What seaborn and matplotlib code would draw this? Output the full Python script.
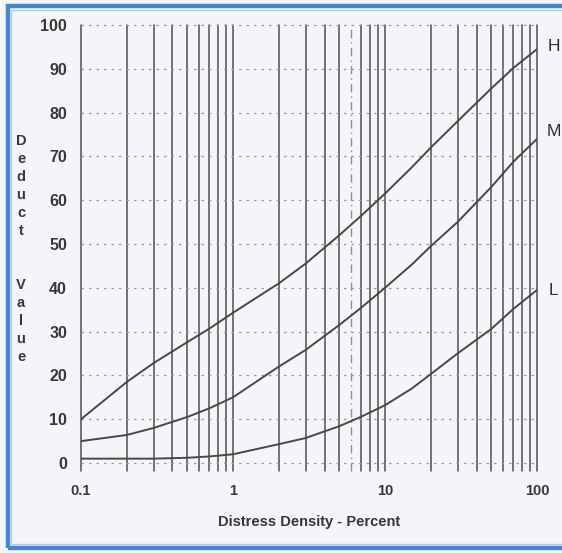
import matplotlib
matplotlib.use("Agg")
import matplotlib.pyplot as plt
from matplotlib.patches import Rectangle
import numpy as np
import pandas as pd
import seaborn as sns

# Distress density (percent) and deduct values for each severity level
density = [0.1, 0.2, 0.3, 0.5, 0.7, 1, 2, 3, 5, 7, 10, 15, 20, 30, 50, 70, 100]
deduct_high = [10, 18.5, 22.8, 27.6, 30.7, 34.3, 41, 45.5, 52, 56.5, 61.5, 67.5, 72, 78, 85.5, 90.2, 94.5]
deduct_medium = [5, 6.4, 8, 10.5, 12.5, 15, 22, 25.8, 31.5, 35.5, 40, 45.3, 49.5, 55, 63, 68.8, 74]
deduct_low = [1, 1, 1, 1.2, 1.5, 2, 4.3, 5.7, 8.4, 10.6, 13.2, 17, 20.3, 25, 30.6, 35.2, 39.5]
severity_labels = ["H", "M", "L"]

y_ticks = list(range(0, 101, 10))
x_tick_values = [0.1, 1, 10, 100]
x_tick_labels = ["0.1", "1", "10", "100"]

df = pd.concat([
    pd.DataFrame({"density": density, "deduct": vals, "severity": lab})
    for lab, vals in zip(severity_labels, [deduct_high, deduct_medium, deduct_low])
])

sns.set_theme(style="white")
plt.rcParams["font.family"] = ["Liberation Sans", "DejaVu Sans"]

bg = "#f3f5f8"
ink = "#383838"
fig = plt.figure(figsize=(5.62, 5.53), dpi=100, facecolor=bg)
ax = fig.add_axes([0.1441, 0.1627, 0.8114, 0.7921], facecolor=bg)

sns.lineplot(data=df, x="density", y="deduct", hue="severity",
             palette={"H": "#4a4744", "M": "#4a4744", "L": "#4a4744"},
             linewidth=1.4, legend=False, ax=ax, sort=True)

ax.set_xscale("log")
ax.set_xlim(0.1, 100)
ax.set_ylim(0, 100)

# Log-cycle grid: solid verticals at every 1-9 multiple
minor = [m * 10.0 ** e for e in (-1, 0, 1) for m in range(2, 10)]
ax.set_xticks(x_tick_values)
ax.set_xticklabels(x_tick_labels)
ax.set_xticks(minor, minor=True)
ax.xaxis.set_minor_formatter(matplotlib.ticker.NullFormatter())
for xv in x_tick_values + minor:
    dashed = xv in (0.3, 6)
    ax.axvline(xv, ymin=-0.018, ymax=1, clip_on=False,
               color="#8f8f8f" if dashed else "#555555",
               lw=1.0 if dashed else 1.15,
               ls=(0, (6, 3, 1, 3)) if dashed else "-", zorder=1)

# Dotted horizontal grid
ax.set_yticks(y_ticks)
for yv in y_ticks:
    ax.axhline(yv, color="#9a9a9a", lw=0.9, ls=(0, (2, 4)), clip_on=False, zorder=1)

for s in ax.spines.values():
    s.set_visible(False)

ax.tick_params(axis="x", which="both", length=0, pad=15,
               labelsize=10.5, labelcolor=ink)
ax.tick_params(axis="y", length=0, pad=10, labelsize=11.5, labelcolor=ink)
for lab in ax.get_xticklabels() + ax.get_yticklabels():
    lab.set_fontweight("bold")

ax.set_xlabel("Distress Density - Percent", fontsize=10.5, fontweight="bold",
              color=ink, labelpad=12)
ax.set_ylabel("")

fig.text(0.0374, 0.5497, "\n".join(list("Deduct")) + "\n\n\n" + "\n".join(list("Value")),
         ha="center", va="center", fontsize=10.5, fontweight="bold", color=ink,
         linespacing=1.36)

# Severity labels at the end of each curve
for lab, vals in zip(severity_labels, [deduct_high, deduct_medium, deduct_low]):
    dy = {"H": 2, "M": 5, "L": 0}[lab]
    ax.annotate(lab, xy=(density[-1], vals[-1]), xytext=(12, dy),
                textcoords="offset points", ha="center", va="center",
                fontsize=12.5, color="#2e2e2e", annotation_clip=False)

# Blue frame
fig.patches.append(Rectangle((0.0142, 0.009), 1.05, 0.98, transform=fig.transFigure,
                             fill=False, edgecolor="#4a86c8", lw=3.2, zorder=10))
fig.patches.append(Rectangle((0.0195, 0.0155), 1.05, 0.967, transform=fig.transFigure,
                             fill=False, edgecolor="#a9c8ea", lw=0.9, zorder=10))

fig.savefig("out.png", dpi=100, facecolor=bg)
